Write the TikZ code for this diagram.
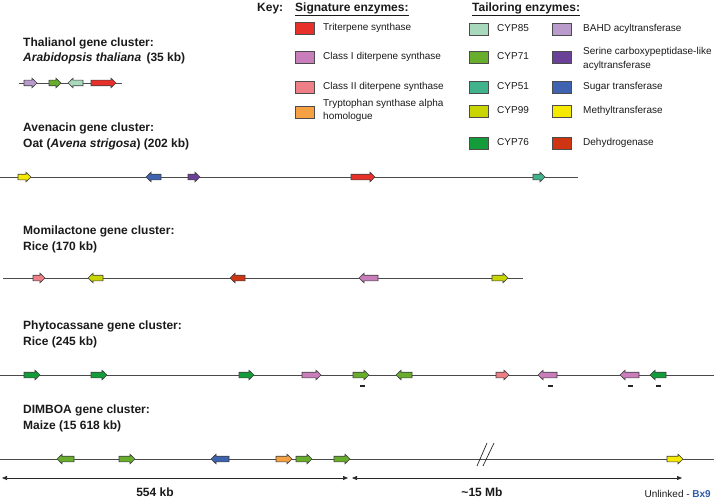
\documentclass[tikz,border=0pt]{standalone}
\usepackage{fontspec}
\setmainfont{Liberation Sans}
\usetikzlibrary{arrows.meta}
\definecolor{cTri}{HTML}{E8302A}
\definecolor{cClassI}{HTML}{C97DBA}
\definecolor{cClassII}{HTML}{EF7F86}
\definecolor{cTrp}{HTML}{F5A043}
\definecolor{cCYPef}{HTML}{A9D9BC}
\definecolor{cCYPso}{HTML}{68AE2C}
\definecolor{cCYPfo}{HTML}{40B38C}
\definecolor{cCYPnn}{HTML}{C9D500}
\definecolor{cCYPss}{HTML}{159C3A}
\definecolor{cBAHD}{HTML}{B99CCC}
\definecolor{cSerine}{HTML}{6B4198}
\definecolor{cSugar}{HTML}{3F63B0}
\definecolor{cMethyl}{HTML}{F6E900}
\definecolor{cDehyd}{HTML}{CF3512}
\definecolor{cLine}{HTML}{4A4A4A}
\definecolor{cText}{HTML}{1A1A1A}
\definecolor{cBx}{HTML}{2E5DAA}
\newcommand{\geneR}[4]{\draw[genestyle,fill=#1] (#2,#4-2.8) -- (#3-5,#4-2.8) -- (#3-5,#4-4.8) -- (#3,#4) -- (#3-5,#4+4.8) -- (#3-5,#4+2.8) -- (#2,#4+2.8) -- cycle;}
\newcommand{\geneL}[4]{\draw[genestyle,fill=#1] (#3,#4-2.8) -- (#2+5,#4-2.8) -- (#2+5,#4-4.8) -- (#2,#4) -- (#2+5,#4+4.8) -- (#2+5,#4+2.8) -- (#3,#4+2.8) -- cycle;}
\newcommand{\swatch}[3]{\draw[swatchstyle,fill=#1] (#2,#3-6) rectangle (#2+19,#3+6);}
\begin{document}
\begin{tikzpicture}[x=1pt,y=-1pt,
  genestyle/.style={draw=black!75,line width=0.6pt,line join=miter},
  swatchstyle/.style={draw=black!70,line width=0.7pt},
  chrom/.style={draw=cLine,line width=0.8pt},
  title/.style={anchor=mid west,inner sep=0pt,font=\fontsize{12}{14}\selectfont\bfseries,text=cText},
  keytxt/.style={anchor=mid west,inner sep=0pt,font=\fontsize{10}{12}\selectfont,text=cText},
  keyhead/.style={anchor=mid west,inner sep=0pt,font=\fontsize{12}{14}\selectfont\bfseries,text=cText},
  tick/.style={draw=black!85,line width=1.1pt},
  dim/.style={draw=black!85,line width=0.7pt,{Triangle[length=5pt,width=4pt]}-{Triangle[length=5pt,width=4pt]}},
  slash/.style={draw=black!85,line width=0.7pt}]
\useasboundingbox (0,0) rectangle (714,500);

% ---------- Key ----------
\node[keyhead] (key) at (257,9) {Key:};
\node[keyhead] (sig) at (295,9) {\underline{Signature enzymes:}};
\node[keyhead] (tail) at (472,9) {\underline{Tailoring enzymes:}};

\swatch{cTri}{295}{28}   \node[keytxt] (k1) at (323,28) {Triterpene synthase};
\swatch{cClassI}{295}{57} \node[keytxt] (k2) at (323,57) {Class I diterpene synthase};
\swatch{cClassII}{295}{87} \node[keytxt] (k3) at (323,87) {Class II diterpene synthase};
\swatch{cTrp}{295}{112}  \node[keytxt] (k4a) at (323,104) {Tryptophan synthase alpha};
\node[keytxt] (k4b) at (323,117) {homologue};

\swatch{cCYPef}{469}{29} \node[keytxt] (k5) at (497,29) {CYP85};
\swatch{cCYPso}{469}{57} \node[keytxt] (k6) at (497,57) {CYP71};
\swatch{cCYPfo}{469}{87} \node[keytxt] (k7) at (497,87) {CYP51};
\swatch{cCYPnn}{469}{111} \node[keytxt] (k8) at (497,111) {CYP99};
\swatch{cCYPss}{469}{143} \node[keytxt] (k9) at (497,143) {CYP76};

\swatch{cBAHD}{552}{29} \node[keytxt] (k10) at (583,29) {BAHD acyltransferase};
\swatch{cSerine}{552}{57} \node[keytxt] (k11a) at (583,52) {Serine carboxypeptidase-like};
\node[keytxt] (k11b) at (583,66) {acyltransferase};
\swatch{cSugar}{552}{87} \node[keytxt] (k12) at (583,87) {Sugar transferase};
\swatch{cMethyl}{552}{111} \node[keytxt] (k13) at (583,111) {Methyltransferase};
\swatch{cDehyd}{552}{143} \node[keytxt] (k14) at (583,143) {Dehydrogenase};

% ---------- Thalianol ----------
\node[title] (t1a) at (23,44) {Thalianol gene cluster:};
\node[title] (t1b) at (23,59) {\textit{Arabidopsis thaliana}\,\ (35 kb)};
\coordinate (l1a) at (19,83); \coordinate (l1b) at (122,83);
\draw[chrom] (l1a) -- (l1b);
\geneR{cBAHD}{24}{37}{83}
\geneR{cCYPso}{49}{61}{83}
\geneL{cCYPef}{68}{83}{83}
\geneR{cTri}{91}{116}{83}

% ---------- Avenacin ----------
\node[title] (t2a) at (23,129) {Avenacin gene cluster:};
\node[title] (t2b) at (23,145) {Oat (\textit{Avena strigosa}) (202 kb)};
\coordinate (l2a) at (0,177); \coordinate (l2b) at (578,177);
\draw[chrom] (l2a) -- (l2b);
\geneR{cMethyl}{18}{31}{177}
\geneL{cSugar}{146}{161}{177}
\geneR{cSerine}{188}{200}{177}
\geneR{cTri}{351}{375}{177}
\geneR{cCYPfo}{533}{545}{177}

% ---------- Momilactone ----------
\node[title] (t3a) at (23,232) {Momilactone gene cluster:};
\node[title] (t3b) at (23,248) {Rice (170 kb)};
\coordinate (l3a) at (3,278); \coordinate (l3b) at (523,278);
\draw[chrom] (l3a) -- (l3b);
\geneR{cClassII}{33}{45}{278}
\geneL{cCYPnn}{88}{103}{278}
\geneL{cDehyd}{230}{245}{278}
\geneL{cClassI}{359}{378}{278}
\geneR{cCYPnn}{492}{508}{278}

% ---------- Phytocassane ----------
\node[title] (t4a) at (23,327) {Phytocassane gene cluster:};
\node[title] (t4b) at (23,343) {Rice (245 kb)};
\coordinate (l4a) at (0,375); \coordinate (l4b) at (714,375);
\draw[chrom] (l4a) -- (l4b);
\geneR{cCYPss}{24}{40}{375}
\geneR{cCYPss}{91}{107}{375}
\geneR{cCYPss}{239}{254}{375}
\geneR{cClassI}{302}{321}{375}
\geneR{cCYPso}{353}{369}{375}
\geneL{cCYPso}{396}{412}{375}
\geneR{cClassII}{496}{509}{375}
\geneL{cClassI}{538}{557}{375}
\geneL{cClassI}{620}{639}{375}
\geneL{cCYPss}{650}{666}{375}
\coordinate (d1a) at (359.5,386); \coordinate (d1b) at (364.5,386);
\coordinate (d2a) at (547.5,386); \coordinate (d2b) at (552.5,386);
\coordinate (d3a) at (627.5,386); \coordinate (d3b) at (632.5,386);
\coordinate (d4a) at (655.5,386); \coordinate (d4b) at (660.5,386);
\draw[tick] (d1a) -- (d1b);
\draw[tick] (d2a) -- (d2b);
\draw[tick] (d3a) -- (d3b);
\draw[tick] (d4a) -- (d4b);

% ---------- DIMBOA ----------
\node[title] (t5a) at (23,411) {DIMBOA gene cluster:};
\node[title] (t5b) at (23,427) {Maize (15 618 kb)};
\coordinate (l5a) at (0,459); \coordinate (l5b) at (714,459);
\draw[chrom] (l5a) -- (l5b);
\geneL{cCYPso}{57}{74}{459}
\geneR{cCYPso}{119}{135}{459}
\geneL{cSugar}{211}{229}{459}
\geneR{cTrp}{276}{292}{459}
\geneR{cCYPso}{296}{312}{459}
\geneR{cCYPso}{334}{350}{459}
\geneR{cMethyl}{667}{683}{459}
\coordinate (s1a) at (477,466); \coordinate (s1b) at (487,443);
\coordinate (s2a) at (483,466); \coordinate (s2b) at (494,443);
\draw[slash] (s1a) -- (s1b);
\draw[slash] (s2a) -- (s2b);

% ---------- dimensions ----------
\coordinate (m1a) at (2,478); \coordinate (m1b) at (348,478);
\coordinate (m2a) at (352,478); \coordinate (m2b) at (682,478);
\draw[dim] (m1a) -- (m1b);
\draw[dim] (m2a) -- (m2b);
\node[title,anchor=mid] (lab1) at (155,494) {554 kb};
\node[title,anchor=mid] (lab2) at (482,494) {\textasciitilde15 Mb};
\node[keytxt,anchor=mid east] (unl) at (711,495) {Unlinked - \textcolor{cBx}{\bfseries Bx9}};
\end{tikzpicture}
\end{document}
